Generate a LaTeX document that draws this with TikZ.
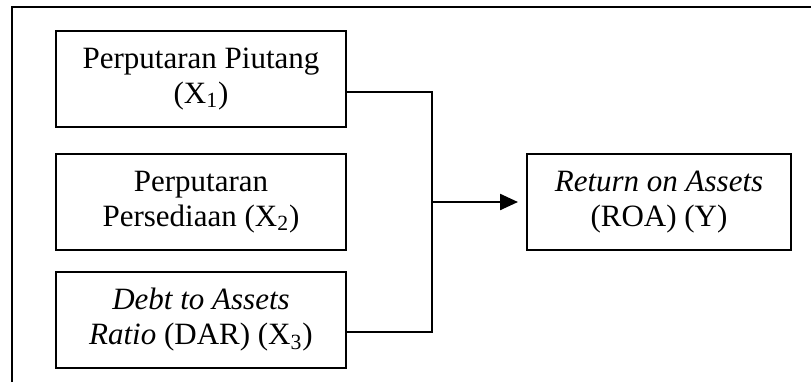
\documentclass[tikz,border=0pt]{standalone}
\usepackage{fontspec}
\setmainfont{Liberation Serif}
\usetikzlibrary{arrows.meta,positioning}

\begin{document}
\begin{tikzpicture}[
  node distance=13.5pt,
  box/.style={draw,line width=1.2pt,outer sep=0pt,minimum width=145pt,minimum height=48pt,align=center,inner sep=2pt,font=\fontsize{15.5pt}{17.5pt}\selectfont},
  link/.style={line width=1.2pt},
  arrow/.style={-{Triangle[length=9pt,width=8pt]},line width=1.2pt}
]
\useasboundingbox (0,0) rectangle (405.5pt,-191pt);
\draw[line width=1.3pt] (6pt,-191pt) |- (405.5pt,-3.5pt);
\node[box] (piutang) at (100.5pt,-39.5pt) {Perputaran Piutang\\(X\textsubscript{1})};
\node[box,below=of piutang] (persediaan) {Perputaran\\Persediaan (X\textsubscript{2})};
\node[box,below=11pt of persediaan] (dar) {\textit{Debt to Assets}\\\textit{Ratio} (DAR) (X\textsubscript{3})};
\node[box,minimum width=132pt,right=90.5pt of persediaan] (roa) {\textit{Return on Assets}\\(ROA) (Y)};
\coordinate (merge) at ([xshift=43pt]persediaan.east);
\draw[link] ([yshift=-6.5pt]piutang.east) -| (merge);
\draw[link] ([yshift=-6pt]dar.east) -| (merge);
\draw[arrow] (merge) -- ([xshift=-4.5pt]roa.west);
\end{tikzpicture}
\end{document}
